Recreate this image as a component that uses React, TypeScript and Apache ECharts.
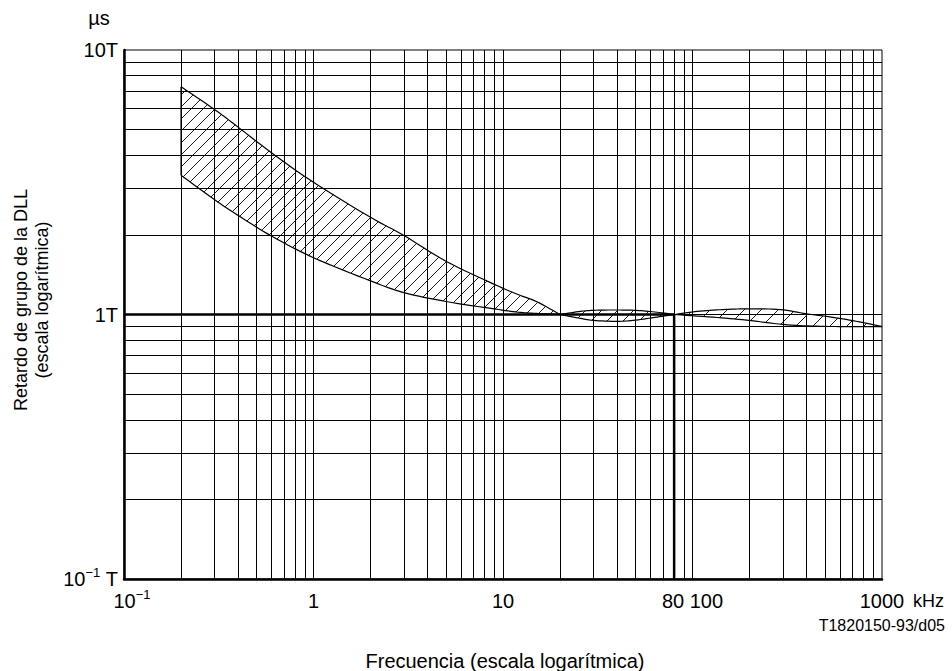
import React, { useEffect, useRef } from "react";
import * as echarts from "echarts";

const FONT = "'Liberation Sans', Arial, Helvetica, sans-serif";

// Band 1 (hatched, 0.2 – 20 kHz), values in units of T
const BAND1_FREQ_UP = [0.2, 0.3, 0.4, 0.6, 1, 2, 3, 5, 9, 12, 15, 20];
const BAND1_UP = [7.26, 5.96, 5.11, 4.09, 3.16, 2.33, 1.99, 1.59, 1.3, 1.19, 1.12, 1.0];
const BAND1_FREQ_LO = [0.2, 0.3, 0.4, 0.6, 1, 2, 3, 5, 9, 12, 15, 20];
const BAND1_LO = [3.36, 2.72, 2.37, 1.98, 1.64, 1.34, 1.21, 1.12, 1.05, 1.02, 1.01, 1.0];

// Band 2 (lens, 20 – 80 kHz)
const BAND2_FREQ_UP = [20, 25, 30, 40, 52, 65, 80];
const BAND2_UP = [1.0, 1.025, 1.037, 1.04, 1.035, 1.02, 1.0];
const BAND2_FREQ_LO = [20, 25, 30, 40, 50, 65, 80];
const BAND2_LO = [1.0, 0.97, 0.95, 0.942, 0.952, 0.978, 1.0];

// Band 3 (80 – 1000 kHz)
const BAND3_FREQ_UP = [80, 110, 150, 200, 290, 400, 530, 730, 1000];
const BAND3_UP = [1.0, 1.03, 1.045, 1.05, 1.044, 1.006, 0.98, 0.943, 0.9];
const BAND3_FREQ_LO = [80, 128, 193, 300, 450, 700, 1000];
const BAND3_LO = [1.0, 0.977, 0.952, 0.917, 0.903, 0.9, 0.9];

// Bold guide: 1T reference up to 80 kHz, then down to the axis
const GUIDE_FREQ = [0.1, 80, 80];
const GUIDE_VAL = [1, 1, 0.1];

// Grid structure
const X_DECADES = [0.1, 1, 10, 100];
const Y_DECADES = [0.1, 1];
const GRID_MANTISSAS = [1, 2, 3, 4, 5, 6, 7, 8, 9];

// Tick labels by decade exponent
const X_TICK_LABELS: Record<string, string> = {
  "-1": "{bl|10}{s|−1}",
  "0": "{b|1}",
  "1": "{b|10}",
  "2": "{b|80 100}",
  "3": "{b|1000}",
};
const Y_TICK_LABELS: Record<string, string> = {
  "-1": "{b|10}{s|−1}{b| T}",
  "0": "{b|1T}",
  "1": "{b|10T}",
};

const HATCH_STEPS = [12, 16, 17];

const REGIONS = [
  { fu: BAND1_FREQ_UP, u: BAND1_UP, fl: BAND1_FREQ_LO, l: BAND1_LO },
  { fu: BAND2_FREQ_UP, u: BAND2_UP, fl: BAND2_FREQ_LO, l: BAND2_LO },
  { fu: BAND3_FREQ_UP, u: BAND3_UP, fl: BAND3_FREQ_LO, l: BAND3_LO },
];

type P = number[];

function smooth(pts: P[], n = 8): P[] {
  if (pts.length < 3) return pts;
  const out: P[] = [];
  for (let i = 0; i < pts.length - 1; i++) {
    const p0 = pts[Math.max(i - 1, 0)];
    const p1 = pts[i];
    const p2 = pts[i + 1];
    const p3 = pts[Math.min(i + 2, pts.length - 1)];
    for (let k = 0; k < n; k++) {
      const t = k / n;
      const t2 = t * t;
      const t3 = t2 * t;
      const c = (j: number) =>
        0.5 *
        (2 * p1[j] +
          (-p0[j] + p2[j]) * t +
          (2 * p0[j] - 5 * p1[j] + 4 * p2[j] - p3[j]) * t2 +
          (-p0[j] + 3 * p1[j] - 3 * p2[j] + p3[j]) * t3);
      out.push([c(0), c(1)]);
    }
  }
  out.push(pts[pts.length - 1]);
  return out;
}

function hatchSegments(poly: P[], step: number): number[][] {
  let minU = Infinity;
  let maxU = -Infinity;
  poly.forEach((p) => {
    const u = p[0] + p[1];
    if (u < minU) minU = u;
    if (u > maxU) maxU = u;
  });
  const segs: number[][] = [];
  const n = poly.length;
  for (let c = Math.ceil(minU / step) * step; c <= maxU; c += step) {
    const hits: P[] = [];
    for (let i = 0; i < n; i++) {
      const a = poly[i];
      const b = poly[(i + 1) % n];
      const ua = a[0] + a[1];
      const ub = b[0] + b[1];
      if ((ua <= c && ub > c) || (ub <= c && ua > c)) {
        const t = (c - ua) / (ub - ua);
        hits.push([a[0] + t * (b[0] - a[0]), a[1] + t * (b[1] - a[1])]);
      }
    }
    hits.sort((p, q) => p[0] - q[0]);
    for (let k = 0; k + 1 < hits.length; k += 2) {
      segs.push([hits[k][0], hits[k][1], hits[k + 1][0], hits[k + 1][1]]);
    }
  }
  return segs;
}

function renderBand(params: any, api: any) {
  const idx = api.value(2);
  const r = REGIONS[idx];
  const up = smooth(r.fu.map((f, i) => api.coord([f, r.u[i]])));
  const lo = smooth(r.fl.map((f, i) => api.coord([f, r.l[i]])));
  const poly = up.concat(lo.slice().reverse());
  const segs = hatchSegments(poly, HATCH_STEPS[idx]);
  const children: any[] = segs.map((s) => ({
    type: "line",
    shape: { x1: s[0], y1: s[1], x2: s[2], y2: s[3] },
    style: { stroke: "#000", lineWidth: 0.9 },
  }));
  children.push({
    type: "polyline",
    shape: { points: up },
    style: { stroke: "#000", lineWidth: 1.2, fill: null },
  });
  children.push({
    type: "polyline",
    shape: { points: lo },
    style: { stroke: "#000", lineWidth: 1.2, fill: null },
  });
  if (idx === 0) {
    children.push({
      type: "line",
      shape: { x1: up[0][0], y1: up[0][1], x2: lo[0][0], y2: lo[0][1] },
      style: { stroke: "#000", lineWidth: 1.2 },
    });
  }
  return { type: "group", children };
}

function gridValues(decades: number[]) {
  const vals: number[] = [];
  decades.forEach((d, di) => {
    GRID_MANTISSAS.forEach((m) => {
      if (di === 0 && m === 1) return;
      vals.push(+(d * m).toPrecision(6));
    });
  });
  return vals;
}

const richX = {
  b: { fontSize: 20, fontFamily: FONT, color: "#000", lineHeight: 26 },
  bl: { fontSize: 20, fontFamily: FONT, color: "#000", lineHeight: 26, padding: [0, 0, 0, 16] },
  s: { fontSize: 13, fontFamily: FONT, color: "#000", lineHeight: 13, verticalAlign: "top" },
};
const richY = {
  b: { fontSize: 20, fontFamily: FONT, color: "#000", lineHeight: 26 },
  s: { fontSize: 13, fontFamily: FONT, color: "#000", lineHeight: 13, verticalAlign: "top" },
};

function textEl(text: string, x: number, y: number, size: number, align: string, extra: any = {}) {
  return {
    type: "text",
    x,
    y,
    silent: true,
    ...extra,
    style: {
      text,
      fill: "#000",
      fontSize: size,
      fontFamily: FONT,
      align,
      textAlign: align,
      verticalAlign: "middle",
      textVerticalAlign: "middle",
      lineHeight: extra.lineHeight || size * 1.15,
    },
  };
}

export default function App() {
  const ref = useRef<HTMLDivElement>(null);
  useEffect(() => {
    const chart = echarts.init(ref.current!, null, { renderer: "svg" });
    const lineBase = { type: "solid", color: "#000", width: 1 };
    const option: any = {
      animation: false,
      backgroundColor: "#fff",
      grid: {
        left: 124,
        right: 70,
        top: 50,
        bottom: 92,
        show: true,
        borderColor: "#000",
        borderWidth: 1,
        backgroundColor: "transparent",
      },
      xAxis: {
        type: "log",
        logBase: 10,
        min: 0.1,
        max: 1000,
        splitLine: { show: false },
        axisTick: { show: false },
        axisLine: { onZero: false, lineStyle: { color: "#000", width: 2.5 } },
        axisLabel: {
          margin: 9,
          showMinLabel: true,
          showMaxLabel: true,
          hideOverlap: false,
          formatter: (v: number) => X_TICK_LABELS[String(Math.round(Math.log10(v)))] ?? "",
          rich: richX,
        },
      },
      yAxis: {
        type: "log",
        logBase: 10,
        min: 0.1,
        max: 10,
        splitLine: { show: false },
        axisTick: { show: false },
        axisLine: { onZero: false, lineStyle: { color: "#000", width: 2.5 } },
        axisLabel: {
          margin: 6,
          showMinLabel: true,
          showMaxLabel: true,
          hideOverlap: false,
          formatter: (v: number) => Y_TICK_LABELS[String(Math.round(Math.log10(v)))] ?? "",
          rich: richY,
        },
      },
      series: [
        {
          type: "line",
          name: "grid",
          data: [[X_DECADES[0], Y_DECADES[0]]],
          showSymbol: false,
          symbol: "none",
          silent: true,
          z: 1,
          lineStyle: { width: 0 },
          markLine: {
            silent: true,
            symbol: ["none", "none"],
            label: { show: false },
            lineStyle: lineBase,
            emphasis: { disabled: true },
            animation: false,
            data: [
              ...gridValues(X_DECADES).map((v) => ({ xAxis: v })),
              ...gridValues(Y_DECADES).map((v) => ({ yAxis: v })),
            ],
          },
        },
        {
          type: "custom",
          name: "bands",
          coordinateSystem: "cartesian2d",
          renderItem: renderBand,
          silent: true,
          clip: false,
          z: 3,
          encode: { x: 0, y: 1 },
          data: REGIONS.map((r, i) => [r.fu[0], r.u[0], i]),
        },
        {
          type: "line",
          name: "guide",
          data: GUIDE_FREQ.map((f, i) => [f, GUIDE_VAL[i]]),
          showSymbol: false,
          symbol: "none",
          silent: true,
          z: 4,
          lineStyle: { color: "#000", width: 2.5 },
        },
      ],
      graphic: [
        textEl("µs", 99, 18, 20, "center"),
        textEl("kHz", 944, 601, 18, "right"),
        textEl("T1820150-93/d05", 945, 625, 16, "right"),
        textEl("Frecuencia (escala logarítmica)", 505, 661, 20, "center"),
        textEl("Retardo de grupo de la DLL\n(escala logarítmica)", 31, 300, 18, "center", {
          rotation: Math.PI / 2,
          lineHeight: 21,
        }),
      ],
    };
    chart.setOption(option);
    return () => chart.dispose();
  }, []);
  return (
    <div
      ref={ref}
      style={{ position: "fixed", left: 0, top: 0, width: 952, height: 671, background: "#fff" }}
    />
  );
}
